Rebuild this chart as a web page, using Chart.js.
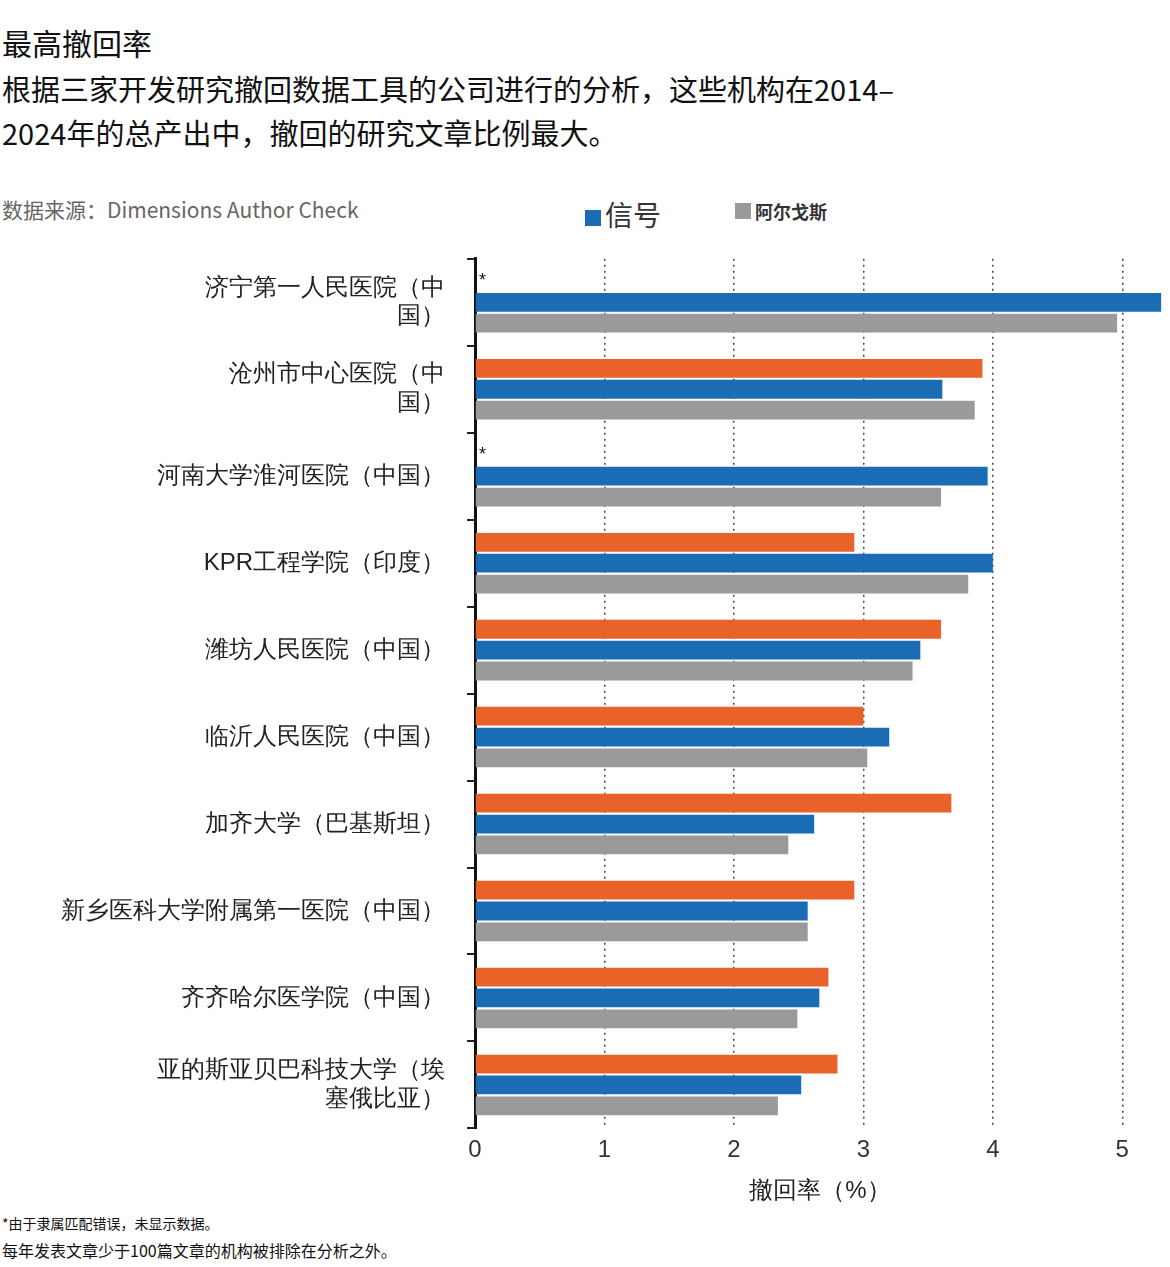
<!DOCTYPE html>
<html lang="zh">
<head>
<meta charset="UTF-8">
<title>最高撤回率</title>
<script src="https://cdn.jsdelivr.net/npm/chart.js"></script>
<style>
  body { margin:0; width:1170px; height:1267px; background:#fff; font-family:"Noto Sans CJK SC","Noto Sans",sans-serif; color:#111; position:relative; }
  .t1 { position:absolute; left:2px; top:20px; font-size:30px; }
  .t2 { position:absolute; left:2px; top:66px; font-size:29px; line-height:44px; width:1100px; }
  .src { position:absolute; left:2px; top:194px; font-size:21px; color:#666; }
  .lg { position:absolute; top:194px; font-size:28px; color:#333; }
  .sq { display:inline-block; width:16px; height:16px; margin-right:4px; }
  .fn { position:absolute; left:2px; font-size:16px; color:#111; }
  #wrap { position:absolute; left:0; top:208px; width:1170px; height:1002px; }
</style>
</head>
<body>
<div class="t1">最高撤回率</div>
<div class="t2">根据三家开发研究撤回数据工具的公司进行的分析，这些机构在2014–<br>2024年的总产出中，撤回的研究文章比例最大。</div>
<div class="src">数据来源：Dimensions Author Check</div>
<div class="lg" style="left:585px;"><span class="sq" style="background:#1a6db5"></span>信号</div>
<div class="lg" style="left:735px;font-size:18px;top:198px;font-weight:bold"><span class="sq" style="background:#9a9a9a"></span>阿尔戈斯</div>
<div id="wrap"><canvas id="c"></canvas></div>
<div class="fn" style="top:1213px;font-size:14px">*由于隶属匹配错误，未显示数据。</div>
<div class="fn" style="top:1238px">每年发表文章少于100篇文章的机构被排除在分析之外。</div>
<script>
const institutions = [
  ['济宁第一人民医院（中', '国）'],
  ['沧州市中心医院（中', '国）'],
  '河南大学淮河医院（中国）',
  'KPR工程学院（印度）',
  '潍坊人民医院（中国）',
  '临沂人民医院（中国）',
  '加齐大学（巴基斯坦）',
  '新乡医科大学附属第一医院（中国）',
  '齐齐哈尔医学院（中国）',
  ['亚的斯亚贝巴科技大学（埃', '塞俄比亚）']
];
const orangeVals = [null, 3.92, null, 2.93, 3.60, 3.00, 3.68, 2.93, 2.73, 2.80];
const signalVals = [5.30, 3.61, 3.96, 4.00, 3.44, 3.20, 2.62, 2.57, 2.66, 2.52];
const argosVals  = [4.96, 3.86, 3.60, 3.81, 3.38, 3.03, 2.42, 2.57, 2.49, 2.34];
const xTicks = [0, 1, 2, 3, 4, 5];

const starPlugin = {
  id: 'stars',
  afterDatasetsDraw(chart) {
    const ctx = chart.ctx, meta = chart.getDatasetMeta(1);
    ctx.save();
    ctx.font = '18px sans-serif';
    ctx.fillStyle = '#111';
    orangeVals.forEach((v, i) => {
      if (v === null) {
        const y = meta.data[i].y - 22;
        ctx.fillText('*', chart.scales.x.getPixelForValue(0) + 4, y + 6);
      }
    });
    ctx.restore();
  }
};

new Chart(document.getElementById('c'), {
  type: 'bar',
  data: {
    labels: institutions,
    datasets: [
      { label: '', data: orangeVals, backgroundColor: '#e8622a' },
      { label: '信号', data: signalVals, backgroundColor: '#1a6db5' },
      { label: '阿尔戈斯', data: argosVals, backgroundColor: '#9a9a9a' }
    ]
  },
  options: {
    indexAxis: 'y',
    responsive: true,
    maintainAspectRatio: false,
    animation: false,
    layout: { padding: { top: 10, right: 5, bottom: 0 } },
    datasets: { bar: { categoryPercentage: 0.72, barPercentage: 0.9 } },
    plugins: { legend: { display: false }, tooltip: { enabled: false } },
    scales: {
      x: {
        min: 0, max: 5.33,
        afterBuildTicks(s) { s.ticks = xTicks.map(v => ({ value: v })); },
        grid: { color: '#444', lineWidth: 1.5, tickLength: 0, drawTicks: false },
        border: { display: false, dash: [2, 4] },
        ticks: { font: { size: 24 }, color: '#333', padding: 8 },
        title: { display: true, text: '撤回率（%）', font: { size: 24 }, color: '#222', padding: { top: 4 } }
      },
      y: {
        afterFit(s) { s.width = 475; },
        grid: { drawOnChartArea: false, offset: true, color: '#222', tickLength: 8, lineWidth: 2 },
        border: { color: '#111', width: 3 },
        ticks: { font: { size: 24 }, color: '#222', padding: 22 }
      }
    }
  },
  plugins: [starPlugin]
});
</script>
</body>
</html>
